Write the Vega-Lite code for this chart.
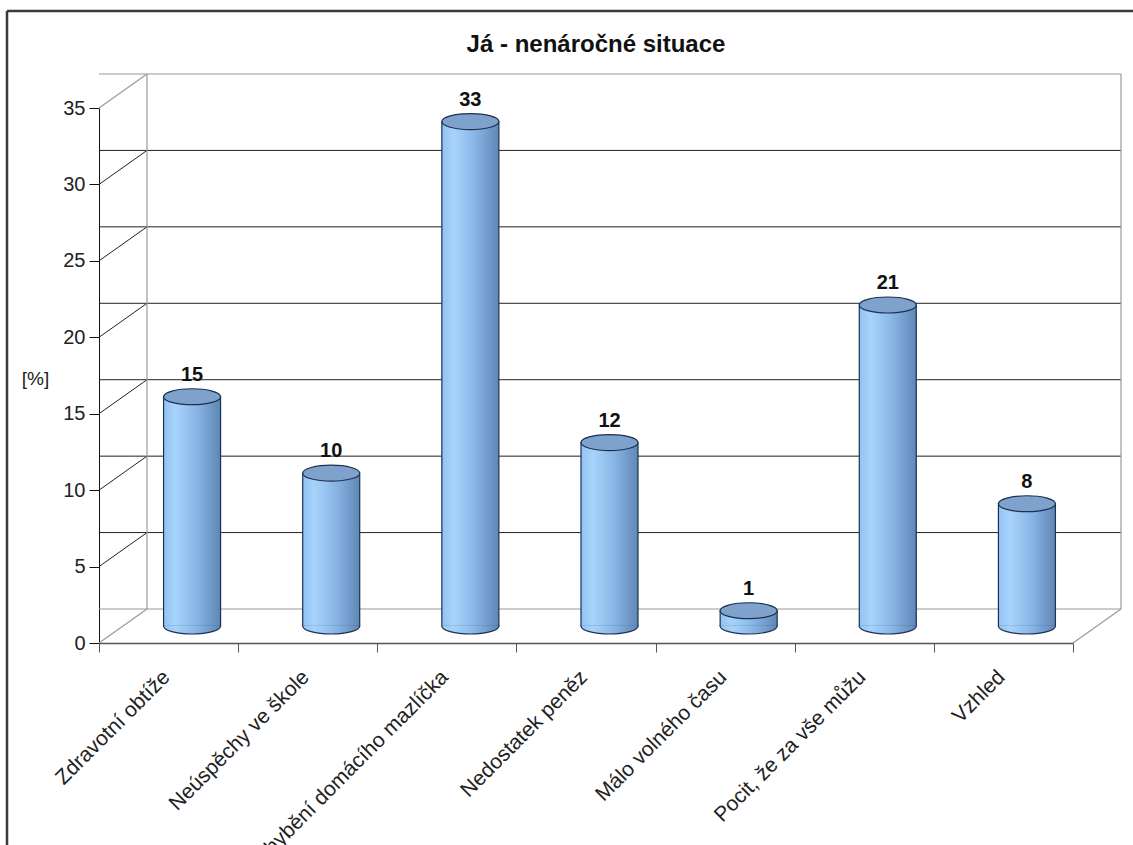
{
  "$schema": "https://vega.github.io/schema/vega-lite/v6.json",
  "width": 974,
  "height": 535,
  "autosize": {"type": "none"},
  "padding": {"left": 99, "top": 108, "right": 60, "bottom": 202},
  "background": "white",
  "config": {
    "font": "Liberation Sans",
    "view": {"stroke": null},
    "axisY": {
      "domainColor": "#111", "tickColor": "#111", "tickSize": 10, "labelFontSize": 20, "labelPadding": 4,
      "labelColor": "#222", "grid": false,
      "titleAngle": 0, "titleFontSize": 19, "titleFontWeight": "normal", "titleColor": "#222",
      "titleX": -64, "titleY": 270, "titleAlign": "center", "titleBaseline": "middle"
    },
    "axisX": {
      "domainColor": "#555", "tickColor": "#555", "tickSize": 9, "labelFontSize": 21, "labelAngle": -45,
      "labelAlign": "right", "labelBaseline": "top", "labelPadding": 14, "labelOffset": -10, "labelColor": "#222", "grid": false,
      "tickBand": "extent", "labelLimit": 400, "domainWidth": 1.5
    }
  },
  "title": {
    "text": "Já - nenáročné situace", "fontSize": 24, "fontWeight": "bold", "color": "#111",
    "anchor": "middle", "dx": 10, "offset": 0, "dy": 66, "baseline": "alphabetic"
  },
  "datasets": {
    "bars": [
      {"kategorie": "Zdravotní obtíže", "procenta": 15},
      {"kategorie": "Neúspěchy ve škole", "procenta": 10},
      {"kategorie": "Chybění domácího mazlíčka", "procenta": 33},
      {"kategorie": "Nedostatek peněz", "procenta": 12},
      {"kategorie": "Málo volného času", "procenta": 1},
      {"kategorie": "Pocit, že za vše můžu", "procenta": 21},
      {"kategorie": "Vzhled", "procenta": 8}
    ],
    "grid": [{"v": 0}, {"v": 5}, {"v": 10}, {"v": 15}, {"v": 20}, {"v": 25}, {"v": 30}, {"v": 35}],
    "one": [{}]
  },
  "layer": [
    {
      "data": {"name": "grid"},
      "transform": [{"filter": "datum.v > 0 && datum.v < 35"}],
      "mark": {"type": "rule", "color": "#222", "strokeWidth": 1, "xOffset": 48, "x2Offset": 48, "yOffset": -34},
      "encoding": {"y": {"field": "v", "type": "quantitative"}}
    },
    {
      "data": {"name": "grid"},
      "transform": [{"filter": "datum.v == 0 || datum.v == 35"}],
      "mark": {"type": "rule", "color": "#9a9a9a", "strokeWidth": 1.2, "xOffset": 48, "x2Offset": 48, "yOffset": -34},
      "encoding": {"y": {"field": "v", "type": "quantitative"}}
    },
    {
      "data": {"name": "grid"},
      "transform": [{"filter": "datum.v > 0 && datum.v < 35"}],
      "mark": {"type": "rule", "color": "#222", "strokeWidth": 1, "x2Offset": 48, "y2Offset": -34},
      "encoding": {
        "x": {"datum": "Zdravotní obtíže", "type": "nominal", "bandPosition": 0},
        "x2": {"datum": "Zdravotní obtíže", "bandPosition": 0},
        "y": {"field": "v", "type": "quantitative"},
        "y2": {"field": "v"}
      }
    },
    {
      "data": {"name": "grid"},
      "transform": [{"filter": "datum.v == 0 || datum.v == 35"}],
      "mark": {"type": "rule", "color": "#9a9a9a", "strokeWidth": 1.2, "x2Offset": 48, "y2Offset": -34},
      "encoding": {
        "x": {"datum": "Zdravotní obtíže", "type": "nominal", "bandPosition": 0},
        "x2": {"datum": "Zdravotní obtíže", "bandPosition": 0},
        "y": {"field": "v", "type": "quantitative"},
        "y2": {"field": "v"}
      }
    },
    {
      "data": {"name": "one"},
      "mark": {"type": "rule", "color": "#9a9a9a", "strokeWidth": 1.2, "xOffset": 48, "yOffset": -34, "y2Offset": -34},
      "encoding": {
        "x": {"datum": "Zdravotní obtíže", "type": "nominal", "bandPosition": 0},
        "y": {"datum": 0, "type": "quantitative"},
        "y2": {"datum": 35}
      }
    },
    {
      "data": {"name": "one"},
      "mark": {"type": "rule", "color": "#9a9a9a", "strokeWidth": 1.2, "xOffset": 48, "yOffset": -34, "y2Offset": -34},
      "encoding": {
        "x": {"datum": "Vzhled", "type": "nominal", "bandPosition": 1},
        "y": {"datum": 0, "type": "quantitative"},
        "y2": {"datum": 35}
      }
    },
    {
      "data": {"name": "one"},
      "mark": {"type": "rule", "color": "#9a9a9a", "strokeWidth": 1.2, "x2Offset": 48, "y2Offset": -34},
      "encoding": {
        "x": {"datum": "Vzhled", "type": "nominal", "bandPosition": 1},
        "x2": {"datum": "Vzhled", "bandPosition": 1},
        "y": {"datum": 0, "type": "quantitative"},
        "y2": {"datum": 0}
      }
    },
    {
      "data": {"name": "bars"},
      "mark": {
        "type": "bar", "width": 57, "xOffset": 23.5, "x2Offset": 23.5, "yOffset": -17, "y2Offset": -17,
        "stroke": "#1c3150", "strokeWidth": 1.2,
        "fill": {"gradient": "linear", "x1": 0, "y1": 0, "x2": 1, "y2": 0,
          "stops": [{"offset": 0, "color": "#92c3f3"}, {"offset": 0.2, "color": "#a7d3fb"}, {"offset": 0.55, "color": "#8cb8e8"}, {"offset": 1, "color": "#5f87b6"}]}
      },
      "encoding": {
        "x": {"field": "kategorie", "type": "nominal", "title": null,
          "scale": {"domain": ["Zdravotní obtíže", "Neúspěchy ve škole", "Chybění domácího mazlíčka", "Nedostatek peněz", "Málo volného času", "Pocit, že za vše můžu", "Vzhled"], "paddingInner": 0, "paddingOuter": 0}},
        "y": {"field": "procenta", "type": "quantitative", "title": "[%]", "scale": {"domain": [0, 35], "nice": false},
          "axis": {"values": [0, 5, 10, 15, 20, 25, 30, 35]}}
      }
    },
    {
      "data": {"name": "bars"},
      "mark": {
        "type": "point", "filled": true, "opacity": 1, "size": 3249, "xOffset": 23.5, "yOffset": -17,
        "shape": "M-1,-0.03L-1,0C-1,0.1546,-0.5523,0.28,0,0.28C0.5523,0.28,1,0.1546,1,0L1,-0.03",
        "stroke": "#1c3150", "strokeWidth": 1.2,
        "fill": {"gradient": "linear", "x1": 0, "y1": 0, "x2": 1, "y2": 0,
          "stops": [{"offset": 0, "color": "#92c3f3"}, {"offset": 0.2, "color": "#a7d3fb"}, {"offset": 0.55, "color": "#8cb8e8"}, {"offset": 1, "color": "#5f87b6"}]}
      },
      "encoding": {
        "x": {"field": "kategorie", "type": "nominal"},
        "y": {"datum": 0, "type": "quantitative"}
      }
    },
    {
      "data": {"name": "bars"},
      "mark": {
        "type": "point", "filled": true, "opacity": 1, "size": 3249, "xOffset": 23.5, "yOffset": -17,
        "shape": "M-1,0C-1,-0.1546,-0.5523,-0.28,0,-0.28C0.5523,-0.28,1,-0.1546,1,0C1,0.1546,0.5523,0.28,0,0.28C-0.5523,0.28,-1,0.1546,-1,0Z",
        "stroke": "#1c3150", "strokeWidth": 1.2, "fill": "#7ea2cb"
      },
      "encoding": {
        "x": {"field": "kategorie", "type": "nominal"},
        "y": {"field": "procenta", "type": "quantitative"}
      }
    },
    {
      "data": {"name": "bars"},
      "mark": {"type": "text", "fontSize": 20, "fontWeight": "bold", "color": "#111", "baseline": "alphabetic", "xOffset": 23.5, "yOffset": -17, "dy": -16},
      "encoding": {
        "x": {"field": "kategorie", "type": "nominal"},
        "y": {"field": "procenta", "type": "quantitative"},
        "text": {"field": "procenta", "type": "quantitative"}
      }
    },
    {
      "data": {"name": "one"},
      "mark": {"type": "rule", "color": "#3a3a3a", "strokeWidth": 2.5, "xOffset": -92, "x2Offset": 80, "yOffset": -97, "y2Offset": -97},
      "encoding": {
        "x": {"datum": "Zdravotní obtíže", "type": "nominal", "bandPosition": 0},
        "x2": {"datum": "Vzhled", "bandPosition": 1},
        "y": {"datum": 35, "type": "quantitative"},
        "y2": {"datum": 35}
      }
    },
    {
      "data": {"name": "one"},
      "mark": {"type": "rule", "color": "#3a3a3a", "strokeWidth": 2.5, "xOffset": -92, "yOffset": -97, "y2Offset": 220},
      "encoding": {
        "x": {"datum": "Zdravotní obtíže", "type": "nominal", "bandPosition": 0},
        "y": {"datum": 35, "type": "quantitative"},
        "y2": {"datum": 0}
      }
    }
  ]
}
